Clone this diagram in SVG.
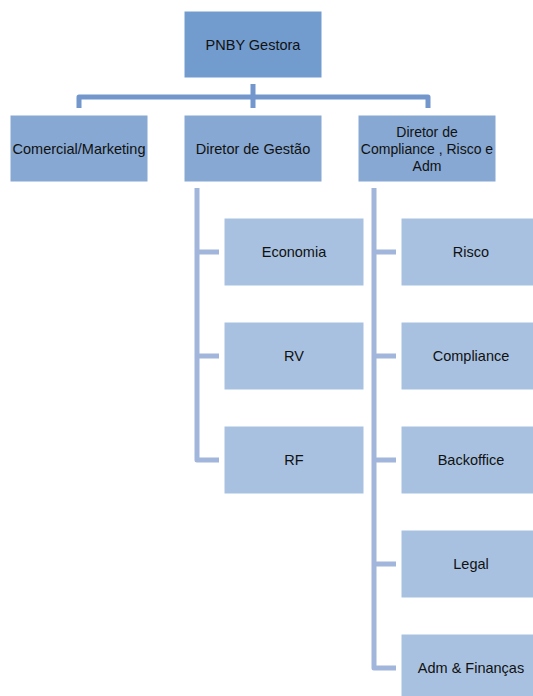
<svg xmlns="http://www.w3.org/2000/svg" width="533" height="696" viewBox="0 0 533 696">
  <style>
    .lbl { font-family: "Liberation Sans", Arial, sans-serif; font-size: 14.5px; fill: #111; text-anchor: middle; }
    .sm { font-size: 14px; }
    .top { fill: #739cce; }
    .mid { fill: #86a8d2; }
    .low { fill: #a8c1e0; }
    .box { stroke: #ffffff; stroke-width: 1; }
    .link1 { fill: none; stroke: #7397cc; stroke-width: 5; stroke-linejoin: round; }
    .link2 { fill: none; stroke: #a2b6dc; stroke-width: 5; stroke-linejoin: round; }
  </style>
  <rect width="533" height="696" fill="#ffffff"/>

  <g id="connectors">
    <path class="link1" d="M253 84 V104 M79 108 V97 H428 V108 M253 97 V108"/>
    <path class="link2" d="M197 188 V460 H219 M197 252 H219 M197 356 H219"/>
    <path class="link2" d="M374 188 V668 H396 M374 252 H396 M374 356 H396 M374 460 H396 M374 564 H396"/>
  </g>

  <g id="pnby-gestora">
    <rect class="top box" x="184" y="11" width="138" height="67"/>
    <text class="lbl" x="253" y="50">PNBY Gestora</text>
  </g>

  <g id="comercial-marketing">
    <rect class="mid box" x="10" y="115" width="138" height="67"/>
    <text class="lbl" x="79" y="154">Comercial/Marketing</text>
  </g>
  <g id="diretor-gestao">
    <rect class="mid box" x="184" y="115" width="138" height="67"/>
    <text class="lbl" x="253" y="154">Diretor de Gestão</text>
  </g>
  <g id="diretor-compliance">
    <rect class="mid box" x="358" y="115" width="138" height="67"/>
    <text class="lbl sm" x="427" y="137">Diretor de</text>
    <text class="lbl sm" x="427" y="154">Compliance , Risco e</text>
    <text class="lbl sm" x="427" y="171">Adm</text>
  </g>

  <g id="economia">
    <rect class="low box" x="224" y="218" width="140" height="68"/>
    <text class="lbl" x="294" y="257">Economia</text>
  </g>
  <g id="rv">
    <rect class="low box" x="224" y="322" width="140" height="68"/>
    <text class="lbl" x="294" y="361">RV</text>
  </g>
  <g id="rf">
    <rect class="low box" x="224" y="426" width="140" height="68"/>
    <text class="lbl" x="294" y="465">RF</text>
  </g>

  <g id="risco">
    <rect class="low box" x="401" y="218" width="140" height="68"/>
    <text class="lbl" x="471" y="257">Risco</text>
  </g>
  <g id="compliance">
    <rect class="low box" x="401" y="322" width="140" height="68"/>
    <text class="lbl" x="471" y="361">Compliance</text>
  </g>
  <g id="backoffice">
    <rect class="low box" x="401" y="426" width="140" height="68"/>
    <text class="lbl" x="471" y="465">Backoffice</text>
  </g>
  <g id="legal">
    <rect class="low box" x="401" y="530" width="140" height="68"/>
    <text class="lbl" x="471" y="569">Legal</text>
  </g>
  <g id="adm-financas">
    <rect class="low box" x="401" y="634" width="140" height="68"/>
    <text class="lbl" x="471" y="673">Adm &amp; Finanças</text>
  </g>
</svg>
